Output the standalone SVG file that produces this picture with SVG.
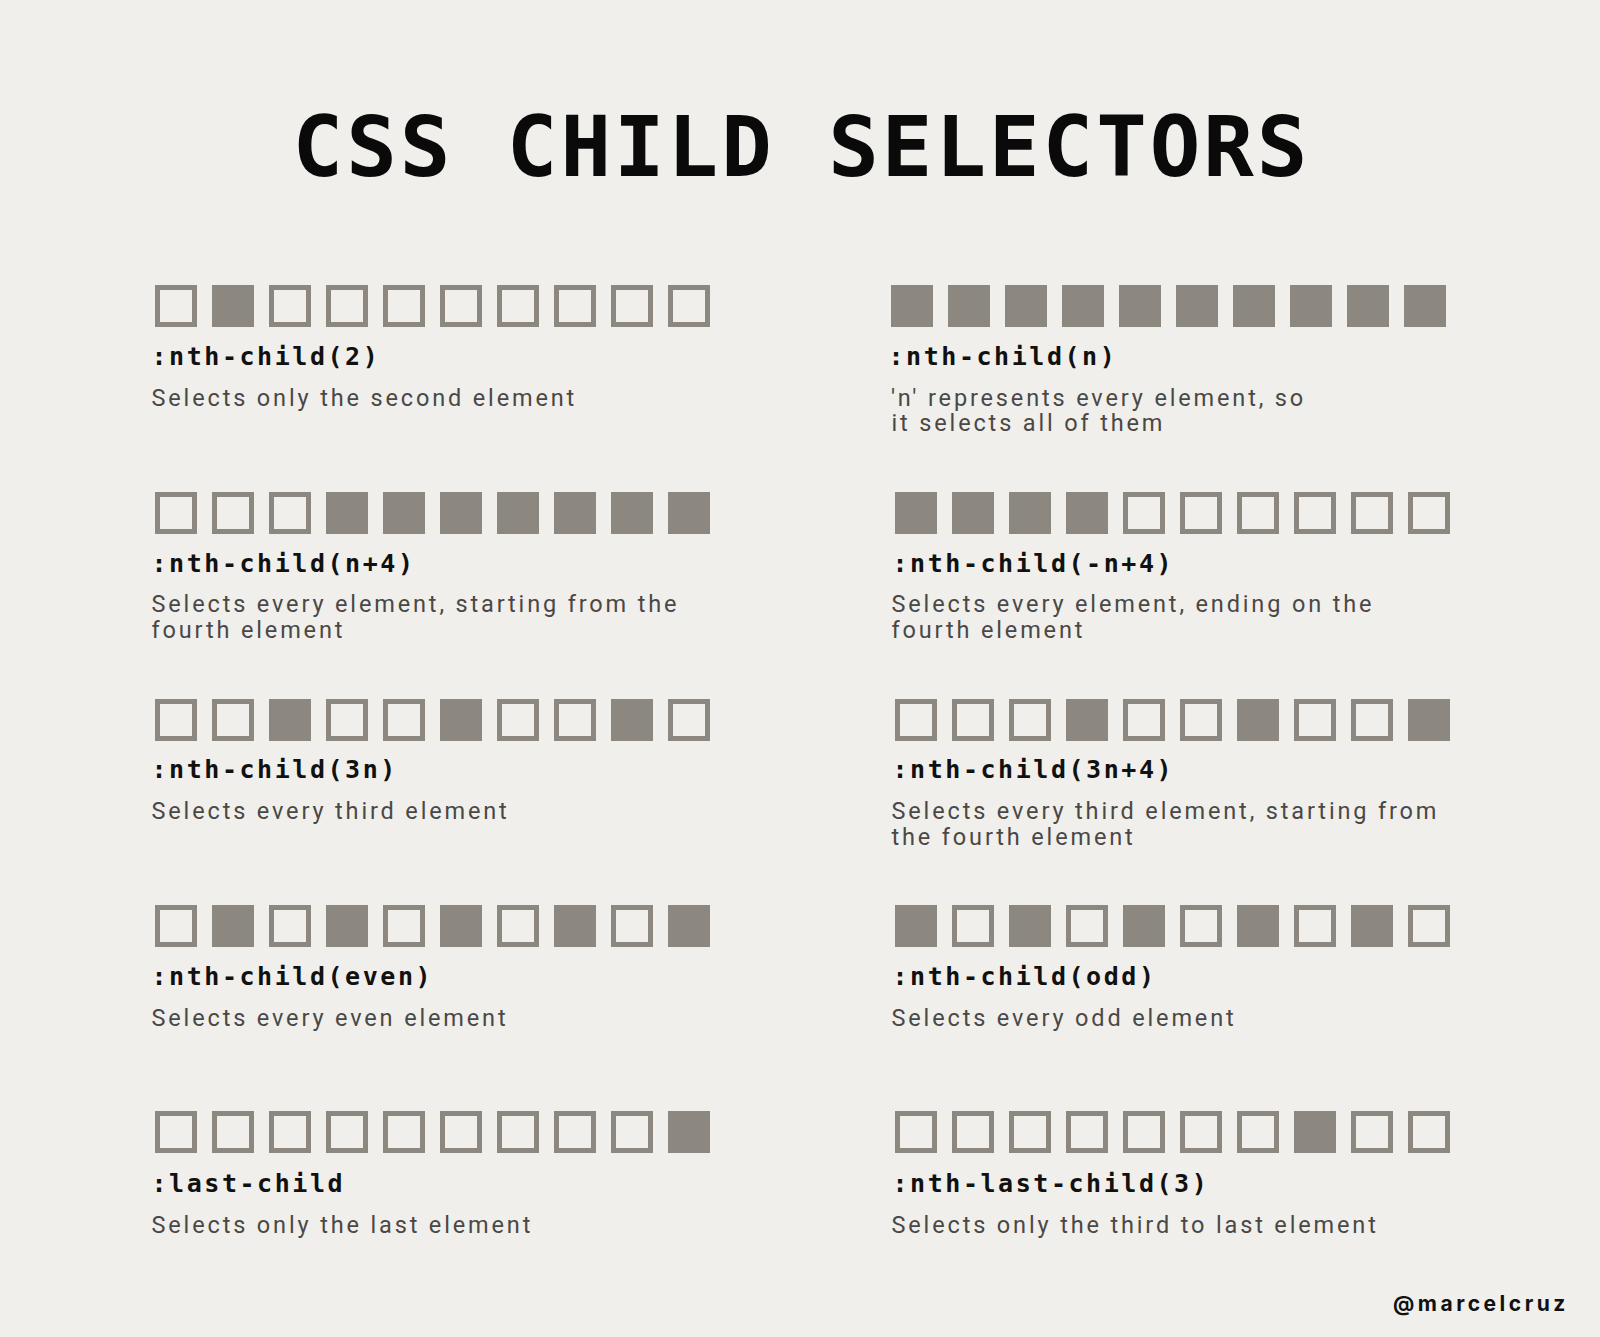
<svg xmlns="http://www.w3.org/2000/svg" xmlns:xlink="http://www.w3.org/1999/xlink" width="1600" height="1337" viewBox="0 0 1600 1337">
<style>
.title{font-family:"DejaVu Sans Mono","Liberation Mono",monospace;font-weight:700;font-size:84px;letter-spacing:3px;fill:#0a0a0a}
.lbl{font-family:"DejaVu Sans Mono","Liberation Mono",monospace;font-weight:700;font-size:25px;letter-spacing:2.55px;fill:#111}
.desc{font-family:Roboto,"Liberation Sans",sans-serif;font-weight:400;font-size:23.5px;letter-spacing:2.85px;fill:#4a4846}
.handle{font-family:Inter,"Liberation Sans",sans-serif;font-weight:700;font-size:21px;letter-spacing:3.5px;fill:#111}
</style>
<defs>
<rect id="on" width="42" height="42" fill="#8c8880"/>
<rect id="off" x="2.5" y="2.5" width="37" height="37" fill="none" stroke="#8c8880" stroke-width="5"/>
</defs>
<rect width="1600" height="1337" fill="#f0efeb"/>
<text class="title" x="801.5" y="175.5" text-anchor="middle">CSS CHILD SELECTORS</text>

<g id="nth-child-2">
<use href="#off" x="155" y="285"/><use href="#on" x="212" y="285"/><use href="#off" x="269" y="285"/><use href="#off" x="326" y="285"/><use href="#off" x="383" y="285"/><use href="#off" x="440" y="285"/><use href="#off" x="497" y="285"/><use href="#off" x="554" y="285"/><use href="#off" x="611" y="285"/><use href="#off" x="668" y="285"/>
<text class="lbl" x="151.5" y="365">:nth-child(2)</text>
<text class="desc" x="151.5" y="405.5">Selects only the second element</text>
</g>

<g id="nth-child-n">
<use href="#on" x="891" y="285"/><use href="#on" x="948" y="285"/><use href="#on" x="1005" y="285"/><use href="#on" x="1062" y="285"/><use href="#on" x="1119" y="285"/><use href="#on" x="1176" y="285"/><use href="#on" x="1233" y="285"/><use href="#on" x="1290" y="285"/><use href="#on" x="1347" y="285"/><use href="#on" x="1404" y="285"/>
<text class="lbl" x="888.5" y="365">:nth-child(n)</text>
<text class="desc" x="891" y="405.5">'n' represents every element, so</text>
<text class="desc" x="891.5" y="431">it selects all of them</text>
</g>

<g id="nth-child-n-plus-4">
<use href="#off" x="155" y="492"/><use href="#off" x="212" y="492"/><use href="#off" x="269" y="492"/><use href="#on" x="326" y="492"/><use href="#on" x="383" y="492"/><use href="#on" x="440" y="492"/><use href="#on" x="497" y="492"/><use href="#on" x="554" y="492"/><use href="#on" x="611" y="492"/><use href="#on" x="668" y="492"/>
<text class="lbl" x="151.5" y="571.7">:nth-child(n+4)</text>
<text class="desc" x="151.5" y="612.3">Selects every element, starting from the</text>
<text class="desc" x="151.5" y="637.8">fourth element</text>
</g>

<g id="nth-child-minus-n-plus-4">
<use href="#on" x="895" y="492"/><use href="#on" x="952" y="492"/><use href="#on" x="1009" y="492"/><use href="#on" x="1066" y="492"/><use href="#off" x="1123" y="492"/><use href="#off" x="1180" y="492"/><use href="#off" x="1237" y="492"/><use href="#off" x="1294" y="492"/><use href="#off" x="1351" y="492"/><use href="#off" x="1408" y="492"/>
<text class="lbl" x="892.5" y="571.7">:nth-child(-n+4)</text>
<text class="desc" x="891.5" y="612.3">Selects every element, ending on the</text>
<text class="desc" x="891.5" y="637.8">fourth element</text>
</g>

<g id="nth-child-3n">
<use href="#off" x="155" y="699"/><use href="#off" x="212" y="699"/><use href="#on" x="269" y="699"/><use href="#off" x="326" y="699"/><use href="#off" x="383" y="699"/><use href="#on" x="440" y="699"/><use href="#off" x="497" y="699"/><use href="#off" x="554" y="699"/><use href="#on" x="611" y="699"/><use href="#off" x="668" y="699"/>
<text class="lbl" x="151.5" y="778.4">:nth-child(3n)</text>
<text class="desc" x="151.5" y="819.1">Selects every third element</text>
</g>

<g id="nth-child-3n-plus-4">
<use href="#off" x="895" y="699"/><use href="#off" x="952" y="699"/><use href="#off" x="1009" y="699"/><use href="#on" x="1066" y="699"/><use href="#off" x="1123" y="699"/><use href="#off" x="1180" y="699"/><use href="#on" x="1237" y="699"/><use href="#off" x="1294" y="699"/><use href="#off" x="1351" y="699"/><use href="#on" x="1408" y="699"/>
<text class="lbl" x="892.5" y="778.4">:nth-child(3n+4)</text>
<text class="desc" x="891.5" y="819.1">Selects every third element, starting from</text>
<text class="desc" x="891.5" y="844.6">the fourth element</text>
</g>

<g id="nth-child-even">
<use href="#off" x="155" y="905"/><use href="#on" x="212" y="905"/><use href="#off" x="269" y="905"/><use href="#on" x="326" y="905"/><use href="#off" x="383" y="905"/><use href="#on" x="440" y="905"/><use href="#off" x="497" y="905"/><use href="#on" x="554" y="905"/><use href="#off" x="611" y="905"/><use href="#on" x="668" y="905"/>
<text class="lbl" x="151.5" y="985">:nth-child(even)</text>
<text class="desc" x="151.5" y="1025.9">Selects every even element</text>
</g>

<g id="nth-child-odd">
<use href="#on" x="895" y="905"/><use href="#off" x="952" y="905"/><use href="#on" x="1009" y="905"/><use href="#off" x="1066" y="905"/><use href="#on" x="1123" y="905"/><use href="#off" x="1180" y="905"/><use href="#on" x="1237" y="905"/><use href="#off" x="1294" y="905"/><use href="#on" x="1351" y="905"/><use href="#off" x="1408" y="905"/>
<text class="lbl" x="892.5" y="985">:nth-child(odd)</text>
<text class="desc" x="891.5" y="1025.9">Selects every odd element</text>
</g>

<g id="last-child">
<use href="#off" x="155" y="1111"/><use href="#off" x="212" y="1111"/><use href="#off" x="269" y="1111"/><use href="#off" x="326" y="1111"/><use href="#off" x="383" y="1111"/><use href="#off" x="440" y="1111"/><use href="#off" x="497" y="1111"/><use href="#off" x="554" y="1111"/><use href="#off" x="611" y="1111"/><use href="#on" x="668" y="1111"/>
<text class="lbl" x="151.5" y="1191.8">:last-child</text>
<text class="desc" x="151.5" y="1232.7">Selects only the last element</text>
</g>

<g id="nth-last-child-3">
<use href="#off" x="895" y="1111"/><use href="#off" x="952" y="1111"/><use href="#off" x="1009" y="1111"/><use href="#off" x="1066" y="1111"/><use href="#off" x="1123" y="1111"/><use href="#off" x="1180" y="1111"/><use href="#off" x="1237" y="1111"/><use href="#on" x="1294" y="1111"/><use href="#off" x="1351" y="1111"/><use href="#off" x="1408" y="1111"/>
<text class="lbl" x="892.5" y="1191.8">:nth-last-child(3)</text>
<text class="desc" x="891.5" y="1232.7">Selects only the third to last element</text>
</g>

<g id="connectors"></g>

<text class="handle" x="1393" y="1311">@marcelcruz</text>
</svg>
